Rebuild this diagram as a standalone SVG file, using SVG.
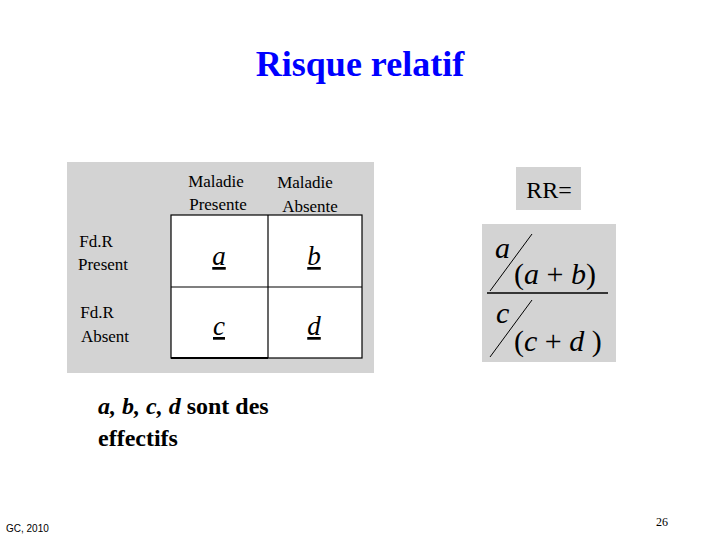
<svg xmlns="http://www.w3.org/2000/svg" width="720" height="540" viewBox="0 0 720 540">
<style>
text{fill:#000}
.h{font-size:17px;text-anchor:middle}
.v{font-size:27px;font-style:italic;text-anchor:middle;text-decoration:underline}
.m{font-size:30px;font-style:italic}
.p{font-size:30px}
</style>
<rect width="720" height="540" fill="#fff"/>
<g font-family="'Liberation Serif','Times New Roman','DejaVu Serif',serif">
<text x="360" y="76" font-size="36" font-weight="bold" text-anchor="middle" style="fill:#0000ff">Risque relatif</text>
<g id="table">
<rect x="67" y="162" width="307" height="211" fill="#d3d3d3"/>
<rect x="171" y="215" width="191" height="143" fill="#fff" stroke="#000" stroke-width="1.2"/>
<line x1="268" y1="215" x2="268" y2="358" stroke="#000" stroke-width="1.2"/>
<line x1="171" y1="287" x2="362" y2="287" stroke="#000" stroke-width="1.2"/>
<line x1="171" y1="358" x2="268" y2="358" stroke="#000" stroke-width="2"/>
<text class="h" x="216" y="187">Maladie</text>
<text class="h" x="218" y="210">Presente</text>
<text class="h" x="305" y="188">Maladie</text>
<text class="h" x="310" y="212">Absente</text>
<text class="h" x="96" y="247">Fd.R</text>
<text class="h" x="103" y="270">Present</text>
<text class="h" x="97" y="318">Fd.R</text>
<text class="h" x="105" y="342">Absent</text>
<text class="v" x="219" y="265">a</text>
<text class="v" x="314" y="265">b</text>
<text class="v" x="219" y="335">c</text>
<text class="v" x="314" y="335">d</text>
</g>
<g id="rr">
<rect x="516" y="167" width="65" height="43" fill="#d3d3d3"/>
<text x="549" y="198" font-size="24" text-anchor="middle">RR=</text>
</g>
<g id="formula">
<rect x="482" y="224" width="134" height="138" fill="#d3d3d3"/>
<text class="m" x="495" y="258">a</text>
<line x1="490" y1="291" x2="532" y2="234" stroke="#000" stroke-width="1"/>
<text class="p" x="514" y="284">(<tspan font-style="italic">a</tspan> + <tspan font-style="italic">b</tspan>)</text>
<line x1="487" y1="293" x2="608" y2="293" stroke="#000" stroke-width="1.5"/>
<text class="m" x="496" y="323">c</text>
<line x1="490" y1="357" x2="532" y2="300" stroke="#000" stroke-width="1"/>
<text class="p" x="514" y="351">(<tspan font-style="italic">c</tspan> + <tspan font-style="italic">d</tspan> )</text>
</g>
<text x="98" y="414" font-size="24" font-weight="bold"><tspan font-style="italic">a, b, c, d</tspan> sont des</text>
<text x="98" y="446" font-size="24" font-weight="bold">effectifs</text>
<text x="662" y="526" font-size="12" text-anchor="middle">26</text>
</g>
<text x="6" y="532" font-size="10" font-family="'Liberation Sans',Arial,sans-serif">GC, 2010</text>
</svg>
